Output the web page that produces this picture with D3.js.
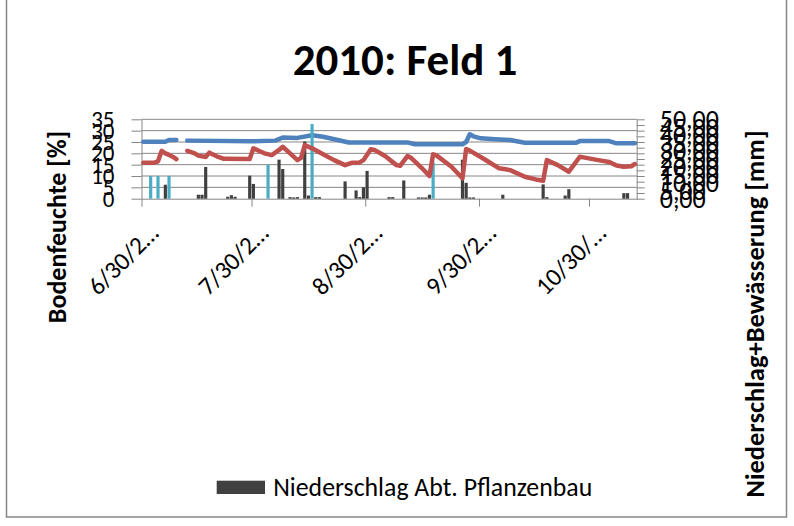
<!DOCTYPE html>
<html>
<head>
<meta charset="utf-8">
<script src="https://cdn.jsdelivr.net/npm/d3@7/dist/d3.min.js"></script>
<style>
  html, body { margin: 0; padding: 0; background: #fff; }
  svg { display: block; }
  text { font-family: Carlito, Calibri, Lato, "Open Sans", sans-serif; fill: #000; }
</style>
</head>
<body>
<div id="chart"></div>
<script>
// Bodenfeuchte (soil moisture, %), left axis – [date, value], null = no data
const blueSeries = [
  ["06-30", 25.1], ["07-06", 25.1], ["07-07", 25.9], ["07-09", 25.9],
  ["07-10", null], ["07-11", null],
  ["07-12", 25.6], ["07-29", 25.3], ["08-05", 25.6], ["08-07", 27.0],
  ["08-11", 26.8], ["08-15", 28.0], ["08-18", 27.3], ["08-22", 25.9],
  ["08-25", 24.8], ["09-10", 24.8], ["09-12", 24.0], ["09-25", 24.0],
  ["09-26", 25.0], ["09-27", 28.4], ["09-28", 27.5], ["09-30", 26.6],
  ["10-04", 26.2], ["10-08", 25.9], ["10-12", 24.7], ["10-26", 24.7],
  ["10-27", 25.4], ["11-04", 25.4], ["11-06", 24.4], ["11-11", 24.4]
]
const redSeries = [
  ["06-30", 15.9], ["07-03", 15.9], ["07-04", 16.5], ["07-05", 21.1],
  ["07-06", 20.0], ["07-07", 19.3], ["07-08", 18.5], ["07-09", 17.4],
  ["07-10", null], ["07-11", null],
  ["07-12", 21.1], ["07-14", 20.0], ["07-15", 19.0], ["07-17", 18.4],
  ["07-18", 20.3], ["07-20", 18.7], ["07-22", 17.6], ["07-29", 17.5],
  ["07-30", 22.2], ["07-31", 21.5], ["08-02", 20.0], ["08-04", 19.2],
  ["08-06", 21.5], ["08-07", 22.9], ["08-09", 20.0], ["08-11", 17.0],
  ["08-12", 18.0], ["08-13", 23.6], ["08-15", 22.2], ["08-18", 19.6],
  ["08-21", 17.0], ["08-24", 14.8], ["08-26", 15.9], ["08-28", 16.0],
  ["08-29", 17.0], ["08-31", 21.8], ["09-01", 21.5], ["09-04", 18.7],
  ["09-07", 14.8], ["09-08", 14.5], ["09-10", 18.8], ["09-11", 18.0],
  ["09-14", 13.4], ["09-16", 10.0], ["09-17", 19.6], ["09-18", 19.0],
  ["09-22", 14.1], ["09-25", 9.0], ["09-26", 21.9], ["09-27", 21.2],
  ["10-01", 17.4], ["10-05", 13.4], ["10-08", 12.6], ["10-12", 9.7],
  ["10-15", 8.5], ["10-17", 7.9], ["10-18", 17.0], ["10-21", 14.8],
  ["10-24", 11.9], ["10-27", 18.5], ["10-28", 18.2], ["11-01", 17.0],
  ["11-04", 16.2], ["11-06", 14.6], ["11-08", 14.1], ["11-10", 14.3],
  ["11-11", 15.3]
]
// Niederschlag Abt. Pflanzenbau (mm), right axis
const rainBars = [
  ["07-06", 8.8], ["07-15", 2.5], ["07-16", 2.5], ["07-17", 20.0],
  ["07-23", 1.2], ["07-24", 2.2], ["07-25", 1.2], ["07-29", 14.5],
  ["07-30", 9.3], ["08-06", 24.6], ["08-07", 18.7], ["08-09", 1.0],
  ["08-10", 0.8], ["08-11", 1.0], ["08-13", 36.0], ["08-14", 2.0],
  ["08-16", 1.0], ["08-17", 1.0], ["08-24", 10.9], ["08-27", 5.2],
  ["08-28", 1.0], ["08-29", 7.2], ["08-30", 17.5], ["09-05", 1.0],
  ["09-06", 1.0], ["09-09", 11.5], ["09-13", 0.8], ["09-14", 0.8],
  ["09-15", 0.8], ["09-16", 2.5], ["09-25", 24.5], ["09-26", 10.0],
  ["09-27", 0.8], ["09-28", 0.8], ["10-06", 2.5], ["10-17", 9.0],
  ["10-18", 1.0], ["10-23", 2.0], ["10-24", 6.0], ["11-08", 3.5],
  ["11-09", 3.5]
]
// Bewässerung (irrigation, mm), right axis
const irrigationBars = [
  ["07-02", 14.3], ["07-04", 14.3], ["07-07", 14.3],
  ["08-03", 21.4], ["08-15", 47.0], ["09-17", 23.0]
]
const dateTicks = ["06-30", "07-30", "08-30", "09-30", "10-30"]
const dateTickLabels = ["6/30/2…", "7/30/2…", "8/30/2…", "9/30/2…", "10/30/…"]
const leftTicks = [0, 5, 10, 15, 20, 25, 30, 35]
const rightTicks = [0, 5, 10, 15, 20, 25, 30, 35, 40, 45, 50]

const W = 794, H = 526
const plot = { left: 141.5, right: 636.7, top: 119.3, bottom: 198.7 }
const DAY = 864e5
const parse = s => new Date(Date.UTC(2010, +s.slice(0, 2) - 1, +s.slice(3, 5)))

const svg = d3.select("#chart").append("svg")
  .attr("width", W).attr("height", H)

// chart frame
svg.append("rect")
  .attr("x", 6.5).attr("y", -2).attr("width", 780).attr("height", 519)
  .attr("fill", "#fff").attr("stroke", "#868686").attr("stroke-width", 1.5)

const x = d3.scaleUtc()
  .domain([parse("06-30"), new Date(+parse("06-30") + 135 * DAY)])
  .range([plot.left, plot.right])
const yL = d3.scaleLinear().domain([0, 35]).range([plot.bottom, plot.top])
const yR = d3.scaleLinear().domain([0, 50]).range([plot.bottom, plot.top])

// gridlines
svg.append("g")
  .selectAll("line").data(leftTicks.slice(1)).join("line")
  .attr("x1", plot.left).attr("x2", plot.right)
  .attr("y1", d => yL(d)).attr("y2", d => yL(d))
  .attr("stroke", "#868686").attr("stroke-width", 1)

const axisStyle = size => g => {
  g.selectAll("path, line").attr("stroke", "#868686").attr("stroke-width", 1)
  g.selectAll("text").attr("font-size", size).attr("fill", "#000")
    .style("font-family", "Carlito, Calibri, Lato, sans-serif")
}

// left axis
svg.append("g").attr("transform", `translate(${plot.left},0)`)
  .call(d3.axisLeft(yL).tickValues(leftTicks).tickSize(10).tickSizeOuter(0)
    .tickPadding(17).tickFormat(d3.format("d")))
  .call(axisStyle(23))

// right axis: 14 minor marks, labels every 5 mm
svg.append("g").attr("transform", `translate(${plot.right},0)`)
  .call(d3.axisRight(yR).tickValues(d3.range(15).map(i => i * 50 / 14))
    .tickSize(8).tickSizeOuter(0).tickFormat(""))
  .call(axisStyle(24))
svg.append("g").attr("transform", `translate(${plot.right},0)`)
  .call(d3.axisRight(yR).tickValues(rightTicks).tickSize(0).tickPadding(23)
    .tickFormat(d => d3.format(".2f")(d).replace(".", ",")))
  .call(axisStyle(26))
  .call(g => g.select("path").remove())
  .call(g => g.selectAll("text").attr("text-anchor", "start"))

// bottom axis
const xAxis = svg.append("g").attr("transform", `translate(0,${plot.bottom})`)
  .call(d3.axisBottom(x).tickValues(dateTicks.map(parse)).tickSize(8)
    .tickSizeOuter(0).tickFormat((d, i) => dateTickLabels[i]))
  .call(axisStyle(25))
xAxis.selectAll("text")
  .attr("text-anchor", "end")
  .attr("dy", 0).attr("y", 0)
  .attr("transform", "translate(18,36) rotate(-45)")

const barX = d => x(parse(d[0])) + 0.25
const barW = x(new Date(+parse("06-30") + DAY)) - x(parse("06-30")) - 0.5
const mid = d => x(new Date(+parse(d[0]) + DAY / 2))

// rain bars
svg.append("g").selectAll("rect").data(rainBars).join("rect")
  .attr("x", barX).attr("width", barW)
  .attr("y", d => yR(d[1])).attr("height", d => plot.bottom - yR(d[1]))
  .attr("fill", "#404040")

const line = d3.line()
  .defined(d => d[1] != null)
  .x(mid).y(d => yL(d[1]))

svg.append("path").datum(blueSeries)
  .attr("d", line).attr("fill", "none")
  .attr("stroke", "#4f81bd").attr("stroke-width", 4.5)
  .attr("stroke-linejoin", "round").attr("stroke-linecap", "round")

// irrigation bars
svg.append("g").selectAll("rect").data(irrigationBars).join("rect")
  .attr("x", barX).attr("width", barW)
  .attr("y", d => yR(d[1])).attr("height", d => plot.bottom - yR(d[1]))
  .attr("fill", "#4bacc6")

svg.append("path").datum(redSeries)
  .attr("d", line).attr("fill", "none")
  .attr("stroke", "#c0504d").attr("stroke-width", 4.5)
  .attr("stroke-linejoin", "round").attr("stroke-linecap", "round")

// title
svg.append("text")
  .attr("x", 405).attr("y", 75).attr("text-anchor", "middle")
  .attr("font-size", 45).attr("font-weight", "bold")
  .text("2010: Feld 1")

// axis titles
svg.append("text")
  .attr("transform", "translate(66,227) rotate(-90)")
  .attr("text-anchor", "middle").attr("font-size", 26).attr("font-weight", "bold")
  .text("Bodenfeuchte [%]")
svg.append("text")
  .attr("transform", "translate(764,314) rotate(-90)")
  .attr("text-anchor", "middle").attr("font-size", 26.5).attr("font-weight", "bold")
  .text("Niederschlag+Bewässerung [mm]")

// legend
const legend = svg.append("g").attr("transform", "translate(216.7,480.7)")
legend.append("rect").attr("width", 48.3).attr("height", 13.3).attr("fill", "#404040")
legend.append("text").attr("x", 56.5).attr("y", 15).attr("font-size", 25.8)
  .text("Niederschlag Abt. Pflanzenbau")
</script>
</body>
</html>
